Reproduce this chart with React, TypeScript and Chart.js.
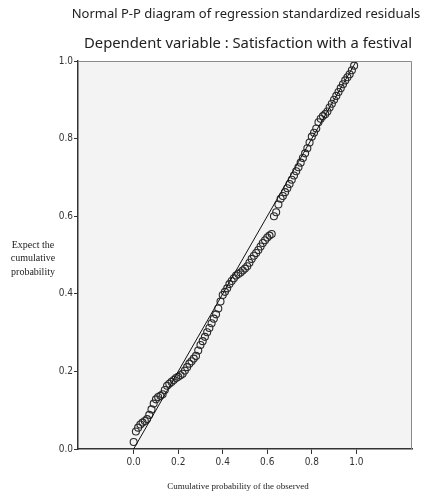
import React, { useEffect, useRef } from "react";
import { Chart, registerables } from "chart.js";

Chart.register(...registerables);

const chartTitle = "Normal P-P diagram of regression standardized residuals";
const chartSubtitle = "Dependent variable : Satisfaction with a festival";
const xAxisTitle = "Cumulative probability of the observed";
const yAxisTitleLines = ["Expect the", "cumulative", "probability"];

const xTickValues = [0, 0.2, 0.4, 0.6, 0.8, 1.0];
const yTickValues = [0, 0.2, 0.4, 0.6, 0.8, 1.0];

const observedProb = [
  0.00, 0.01, 0.02, 0.03, 0.04, 0.05, 0.06, 0.07, 0.08, 0.09,
  0.10, 0.11, 0.12, 0.13, 0.14, 0.15, 0.16, 0.17, 0.18, 0.19,
  0.20, 0.21, 0.22, 0.23, 0.24, 0.25, 0.26, 0.27, 0.28, 0.29,
  0.30, 0.31, 0.32, 0.33, 0.34, 0.35, 0.36, 0.37, 0.38, 0.39,
  0.40, 0.41, 0.42, 0.43, 0.44, 0.45, 0.46, 0.47, 0.48, 0.49,
  0.50, 0.51, 0.52, 0.53, 0.54, 0.55, 0.56, 0.57, 0.58, 0.59,
  0.60, 0.61, 0.62, 0.63, 0.64, 0.65, 0.66, 0.67, 0.68, 0.69,
  0.70, 0.71, 0.72, 0.73, 0.74, 0.75, 0.76, 0.77, 0.78, 0.79,
  0.80, 0.81, 0.82, 0.83, 0.84, 0.85, 0.86, 0.87, 0.88, 0.89,
  0.90, 0.91, 0.92, 0.93, 0.94, 0.95, 0.96, 0.97, 0.98, 0.99,
];

const expectedProb = [
  0.018, 0.045, 0.055, 0.063, 0.068, 0.072, 0.077, 0.088, 0.102, 0.117,
  0.128, 0.134, 0.137, 0.141, 0.152, 0.163, 0.168, 0.173, 0.178, 0.183,
  0.186, 0.190, 0.194, 0.202, 0.211, 0.220, 0.226, 0.233, 0.240, 0.254,
  0.268, 0.278, 0.289, 0.301, 0.312, 0.324, 0.336, 0.347, 0.362, 0.380,
  0.397, 0.405, 0.414, 0.425, 0.433, 0.440, 0.447, 0.451, 0.455, 0.460,
  0.465, 0.471, 0.480, 0.490, 0.498, 0.505, 0.513, 0.522, 0.531, 0.538,
  0.545, 0.550, 0.554, 0.600, 0.610, 0.630, 0.645, 0.652, 0.662, 0.672,
  0.683, 0.694, 0.705, 0.716, 0.726, 0.738, 0.750, 0.762, 0.775, 0.790,
  0.805, 0.815, 0.826, 0.842, 0.851, 0.858, 0.863, 0.870, 0.880, 0.890,
  0.900, 0.910, 0.920, 0.930, 0.940, 0.950, 0.958, 0.966, 0.976, 0.988,
];

const refLineX = [0, 1];
const refLineY = [0, 1];

const W = 425;
const H = 502;

const decorPlugin = {
  id: "decor",
  beforeDraw(chart: any) {
    const { ctx, chartArea } = chart;
    ctx.save();
    ctx.fillStyle = "#ffffff";
    ctx.fillRect(0, 0, chart.width, chart.height);
    ctx.fillStyle = "#f3f3f3";
    ctx.fillRect(chartArea.left, chartArea.top, chartArea.right - chartArea.left, chartArea.bottom - chartArea.top);
    ctx.restore();
  },
  afterDraw(chart: any) {
    const { ctx, chartArea } = chart;
    ctx.save();
    ctx.strokeStyle = "#8a8a8a";
    ctx.lineWidth = 1;
    ctx.beginPath();
    ctx.moveTo(chartArea.left, chartArea.top + 0.5);
    ctx.lineTo(chartArea.right - 0.5, chartArea.top + 0.5);
    ctx.lineTo(chartArea.right - 0.5, chartArea.bottom);
    ctx.stroke();

    ctx.fillStyle = "#222";
    ctx.textAlign = "center";
    ctx.textBaseline = "middle";
    ctx.font = "13px 'Noto Sans', sans-serif";
    ctx.fillText(chartTitle, 246, 14);
    ctx.font = "14.8px 'Noto Sans', sans-serif";
    ctx.fillText(chartSubtitle, 248, 44);

    ctx.font = "9px 'Liberation Serif', serif";
    ctx.fillText(xAxisTitle, 238, 487);
    ctx.font = "10px 'Liberation Serif', serif";
    yAxisTitleLines.forEach((l, i) => ctx.fillText(l, 33, 245 + i * 13.5));
    ctx.restore();
  },
};

export default function App() {
  const ref = useRef<HTMLCanvasElement | null>(null);
  useEffect(() => {
    if (!ref.current) return;
    const points = observedProb.map((x, i) => ({ x, y: expectedProb[i] }));
    const line = refLineX.map((x, i) => ({ x, y: refLineY[i] }));
    const tickFont = { family: "'Liberation Sans Narrow', 'DejaVu Sans Condensed', sans-serif", size: 10 };
    const chart = new Chart(ref.current, {
      type: "scatter",
      data: {
        datasets: [
          {
            type: "line",
            data: line,
            borderColor: "#111",
            borderWidth: 1,
            pointRadius: 0,
            fill: false,
          } as any,
          {
            data: points,
            pointStyle: "circle",
            pointRadius: 3.5,
            pointBorderWidth: 1.1,
            borderColor: "#2a2a2a",
            backgroundColor: "rgba(0,0,0,0)",
          } as any,
        ],
      },
      options: {
        responsive: false,
        animation: false,
        devicePixelRatio: 1,
        layout: { padding: { left: 0, top: 61, right: 13, bottom: 0 } },
        plugins: { legend: { display: false }, tooltip: { enabled: false }, title: { display: false } },
        scales: {
          x: {
            type: "linear",
            min: -0.25,
            max: 1.25,
            afterBuildTicks: (s: any) => {
              s.ticks = xTickValues.map((v) => ({ value: v }));
            },
            afterFit: (s: any) => {
              s.height = 53;
            },
            ticks: {
              color: "#333",
              font: tickFont,
              padding: 2,
              autoSkip: false,
              maxRotation: 0,
              callback: (v: any) => Number(v).toFixed(1),
            },
            grid: { drawOnChartArea: false, drawTicks: true, tickLength: 5, color: "#333" },
            border: { display: true, color: "#333", width: 1.5 },
          },
          y: {
            type: "linear",
            min: 0,
            max: 1,
            afterBuildTicks: (s: any) => {
              s.ticks = yTickValues.map((v) => ({ value: v }));
            },
            afterFit: (s: any) => {
              s.width = 78;
            },
            ticks: {
              color: "#333",
              font: tickFont,
              padding: 1,
              autoSkip: false,
              callback: (v: any) => Number(v).toFixed(1),
            },
            grid: { drawOnChartArea: false, drawTicks: true, tickLength: 4, color: "#333" },
            border: { display: true, color: "#333", width: 1.5 },
          },
        },
      },
      plugins: [decorPlugin],
    });
    return () => chart.destroy();
  }, []);
  return (
    <div style={{ position: "fixed", left: 0, top: 0, width: W, height: H }}>
      <canvas ref={ref} width={W} height={H} style={{ width: W, height: H, display: "block" }} />
    </div>
  );
}
